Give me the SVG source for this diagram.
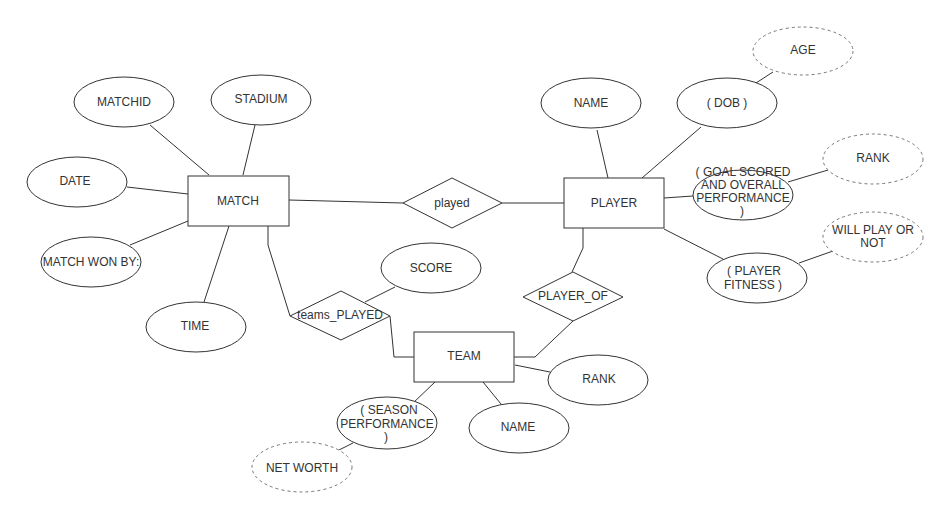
<svg xmlns="http://www.w3.org/2000/svg" width="949" height="520" viewBox="0 0 949 520">
<style>
.s{fill:#fff;stroke:#333;stroke-width:1}
.d{fill:#fff;stroke:#777;stroke-width:1;stroke-dasharray:3,3}
.l{fill:none;stroke:#333;stroke-width:1}
text{font-family:"Liberation Sans",Arial,sans-serif;font-size:12px;fill:#333;text-anchor:middle;dominant-baseline:central}
</style>
<rect width="949" height="520" fill="#fff"/>
<g id="connectors">
<path class="l" d="M150,125 L209,175"/>
<path class="l" d="M255,125 L243,175"/>
<path class="l" d="M127,187 L188,194"/>
<path class="l" d="M130,245 L188,221"/>
<path class="l" d="M204,302 L229,226"/>
<path class="l" d="M268,226 L268,245 L290,316"/>
<path class="l" d="M289,200 L403,203"/>
<path class="l" d="M502,203 L564,203"/>
<path class="l" d="M365,302 L395,287"/>
<path class="l" d="M390,316 L394,357 L414,357"/>
<path class="l" d="M514,357 L535,357 L573,321"/>
<path class="l" d="M515,365 L550,372"/>
<path class="l" d="M483,382 L501,404"/>
<path class="l" d="M435,382 L412,404"/>
<path class="l" d="M353,443 L337,451"/>
<path class="l" d="M583,228 L583,248 L572,272"/>
<path class="l" d="M597,130 L608,178"/>
<path class="l" d="M701,127 L642,178"/>
<path class="l" d="M756,83 L773,72"/>
<path class="l" d="M664,198 L693,196"/>
<path class="l" d="M788,182 L828,170"/>
<path class="l" d="M664,229 L723,259"/>
<path class="l" d="M799,263 L833,251"/>
</g>
<g id="match"><rect class="s" x="188" y="176" width="101" height="50"/><text x="238" y="201">MATCH</text></g>
<g id="matchid"><ellipse class="s" cx="124" cy="102" rx="50" ry="25"/><text x="124" y="102">MATCHID</text></g>
<g id="stadium"><ellipse class="s" cx="261" cy="100" rx="50" ry="25"/><text x="261" y="99">STADIUM</text></g>
<g id="date"><ellipse class="s" cx="77" cy="182" rx="50" ry="25"/><text x="75" y="181">DATE</text></g>
<g id="matchwonby"><ellipse class="s" cx="91" cy="262" rx="50" ry="25"/><text x="91" y="262">MATCH WON BY:</text></g>
<g id="time"><ellipse class="s" cx="196" cy="327" rx="50" ry="25"/><text x="195" y="326">TIME</text></g>
<g id="played"><polygon class="s" points="403,203 452,178 502,203 452,228"/><text x="452" y="203">played</text></g>
<g id="player"><rect class="s" x="564" y="178" width="100" height="50"/><text x="614" y="203">PLAYER</text></g>
<g id="playername"><ellipse class="s" cx="591" cy="103" rx="50" ry="25"/><text x="591" y="103">NAME</text></g>
<g id="dob"><ellipse class="s" cx="727" cy="103" rx="50" ry="25"/><text x="727" y="103">( DOB )</text></g>
<g id="age"><ellipse class="d" cx="803" cy="51" rx="50" ry="24"/><text x="803" y="50">AGE</text></g>
<g id="goalscored"><ellipse class="s" cx="743" cy="195" rx="50" ry="25"/><text x="743" y="172">( GOAL SCORED</text><text x="743" y="185">AND OVERALL</text><text x="743" y="198">PERFORMANCE</text><text x="742" y="211">)</text></g>
<g id="playerrank"><ellipse class="d" cx="873" cy="159" rx="50" ry="25"/><text x="873" y="158">RANK</text></g>
<g id="fitness"><ellipse class="s" cx="757" cy="278" rx="50" ry="25"/><text x="754" y="271">( PLAYER</text><text x="753" y="285">FITNESS  )</text></g>
<g id="willplay"><ellipse class="d" cx="873" cy="237" rx="50" ry="25"/><text x="873" y="230">WILL PLAY OR</text><text x="873" y="243">NOT</text></g>
<g id="player_of"><polygon class="s" points="523,297 573,272 623,297 573,321"/><text x="573" y="296">PLAYER_OF</text></g>
<g id="teams_played"><polygon class="s" points="290,316 341,291 390,316 341,340"/><text x="340" y="315">teams_PLAYED</text></g>
<g id="score"><ellipse class="s" cx="431" cy="268" rx="50" ry="25"/><text x="431" y="268">SCORE</text></g>
<g id="team"><rect class="s" x="414" y="332" width="100" height="50"/><text x="464" y="356">TEAM</text></g>
<g id="teamrank"><ellipse class="s" cx="598" cy="380" rx="50" ry="25"/><text x="599" y="379">RANK</text></g>
<g id="teamname"><ellipse class="s" cx="519" cy="428" rx="50" ry="25"/><text x="518" y="427">NAME</text></g>
<g id="season"><ellipse class="s" cx="387" cy="423" rx="50" ry="26"/><text x="389" y="410">( SEASON</text><text x="387" y="424">PERFORMANCE</text><text x="386" y="437">)</text></g>
<g id="networth"><ellipse class="d" cx="302" cy="467" rx="50" ry="25"/><text x="302" y="468">NET WORTH</text></g>
</svg>
